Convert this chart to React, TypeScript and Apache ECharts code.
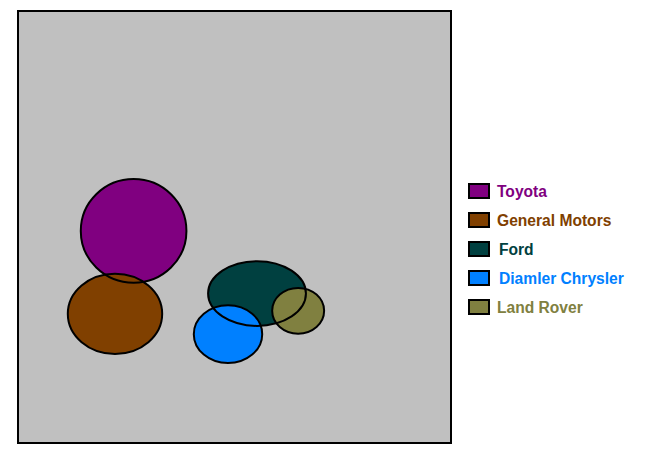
import React, { useEffect, useRef } from 'react';
import * as echarts from 'echarts';

const companies = ['Toyota', 'General Motors', 'Ford', 'Diamler Chrysler', 'Land Rover'];
const colors = ['#800080', '#804000', '#004040', '#0080FF', '#808040'];
// bubble centres and half-widths, in axis units (0..100)
const xValues = [26.7, 22.4, 55.2, 48.5, 64.7];
const yValues = [49.1, 29.9, 34.6, 25.2, 30.6];
const xSpread = [12.2, 10.9, 11.3, 7.9, 6.0];
const ySpread = [12.0, 9.3, 7.5, 6.7, 5.3];

const ellipse = (api: any, fill: string, stroke: string) => {
  const c = api.coord([api.value(0), api.value(1)]);
  const s = api.size([api.value(2), api.value(3)]);
  return {
    type: 'ellipse',
    shape: { cx: c[0], cy: c[1], rx: s[0], ry: s[1] },
    style: { fill, stroke, lineWidth: 2 }
  };
};

const App: React.FC = () => {
  const chartRef = useRef<HTMLDivElement>(null);

  useEffect(() => {
    if (!chartRef.current) return;
    const chart = echarts.init(chartRef.current, null, { renderer: 'svg' });

    const points = companies.map((_, i) => [xValues[i], yValues[i], xSpread[i], ySpread[i]]);

    // fills first, then every outline on top of them
    const fillSeries = companies.map((name, i) => ({
      name,
      type: 'custom',
      itemStyle: { color: colors[i] },
      data: [points[i]],
      renderItem: (_p: any, api: any) => ellipse(api, colors[i], 'none')
    }));

    const outlineSeries = {
      name: 'outline',
      type: 'custom',
      silent: true,
      data: points,
      renderItem: (_p: any, api: any) => ellipse(api, 'none', '#000')
    };

    chart.setOption({
      animation: false,
      grid: {
        left: 18,
        top: 11,
        width: 433,
        height: 432,
        show: true,
        backgroundColor: '#C0C0C0',
        borderColor: '#000',
        borderWidth: 2
      },
      xAxis: { type: 'value', min: 0, max: 100, show: false },
      yAxis: { type: 'value', min: 0, max: 100, show: false },
      legend: {
        orient: 'vertical',
        left: 468,
        top: 183,
        padding: 0,
        itemGap: 13,
        itemWidth: 20,
        itemHeight: 14,
        icon: 'rect',
        itemStyle: { borderColor: '#000', borderWidth: 2 },
        textStyle: {
          fontFamily: 'Liberation Sans, Arial, sans-serif',
          fontWeight: 'bold',
          fontSize: 15.6,
          padding: [0, 0, 0, 3]
        },
        data: companies.map((name, i) => ({
          name,
          textStyle: {
            color: colors[i],
            padding: [0, 0, 0, name === 'Ford' || name === 'Diamler Chrysler' ? 5 : 3]
          }
        }))
      },
      series: [...fillSeries, outlineSeries]
    });

    return () => {
      chart.dispose();
    };
  }, []);

  return (
    <div
      ref={chartRef}
      style={{ position: 'fixed', left: 0, top: 0, width: 653, height: 455, background: '#fff' }}
    ></div>
  );
};

export default App;
